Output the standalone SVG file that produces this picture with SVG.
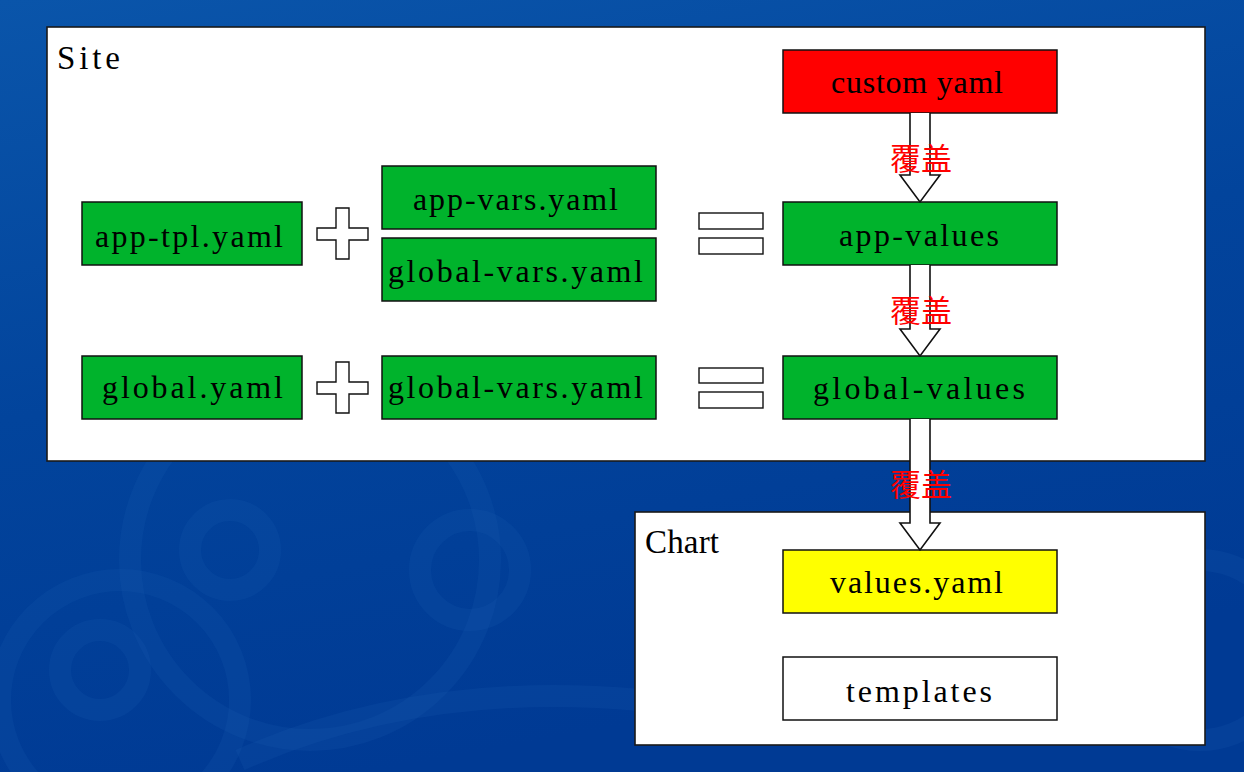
<svg xmlns="http://www.w3.org/2000/svg" width="1244" height="772" viewBox="0 0 1244 772">
<defs>
<linearGradient id="bg" x1="0" y1="0" x2="0.3" y2="1">
<stop offset="0" stop-color="#0a55aa"/>
<stop offset="0.5" stop-color="#02449c"/>
<stop offset="1" stop-color="#003a94"/>
</linearGradient>
<style>
.frame{fill:#fff;stroke:#1a1a1a;stroke-width:1.6}
.box{stroke:#111;stroke-width:1.5}
.g{fill:#00b32c}
.r{fill:#ff0000}
.y{fill:#ffff00}
.w{fill:#fff}
.t{font-family:"Liberation Serif","Times New Roman",serif;font-size:32px;fill:#000}
.big{font-size:33px}
.sym{fill:#fff;stroke:#111;stroke-width:1.4}
.arrow{fill:#fff;stroke:#111;stroke-width:1.6;stroke-linejoin:miter}
.lbl{font-family:"Noto Sans CJK SC","Noto Sans",sans-serif;font-size:31px;fill:#ff0000;text-anchor:middle}
.swirl{fill:none;stroke:#1a5cb0;stroke-opacity:0.18;stroke-width:22}
</style>
</defs>
<rect x="0" y="0" width="1244" height="772" fill="url(#bg)"/>
<g id="background-swirls">
<circle class="swirl" cx="120" cy="700" r="120"/>
<circle class="swirl" cx="100" cy="670" r="40"/>
<circle class="swirl" cx="310" cy="560" r="180"/>
<circle class="swirl" cx="230" cy="550" r="40"/>
<circle class="swirl" cx="470" cy="570" r="50"/>
<path class="swirl" d="M240 760 Q420 680 640 700"/>
<circle class="swirl" cx="1200" cy="650" r="90"/>
</g>

<g id="site">
<rect class="frame" x="47" y="27" width="1158" height="434"/>
<text class="t big" x="57" y="69" textLength="63" lengthAdjust="spacing">Site</text>
</g>
<g id="chart">
<rect class="frame" x="635" y="512" width="570" height="233"/>
<text class="t big" x="645" y="553" textLength="74" lengthAdjust="spacing">Chart</text>
</g>

<g id="custom-yaml">
<rect class="box r" x="783" y="50" width="274" height="63"/>
<text class="t" x="831" y="93" textLength="172" lengthAdjust="spacing">custom yaml</text>
</g>
<g id="app-values">
<rect class="box g" x="783" y="202" width="274" height="63"/>
<text class="t" x="839" y="246" textLength="160" lengthAdjust="spacing">app-values</text>
</g>
<g id="global-values">
<rect class="box g" x="783" y="356" width="274" height="63"/>
<text class="t" x="813" y="399" textLength="212" lengthAdjust="spacing">global-values</text>
</g>
<g id="values-yaml">
<rect class="box y" x="783" y="550" width="274" height="63"/>
<text class="t" x="830" y="593" textLength="173" lengthAdjust="spacing">values.yaml</text>
</g>
<g id="templates">
<rect class="box w" x="783" y="657" width="274" height="63"/>
<text class="t" x="846" y="702" textLength="146" lengthAdjust="spacing">templates</text>
</g>
<g id="app-tpl-yaml">
<rect class="box g" x="82" y="202" width="220" height="63"/>
<text class="t" x="95" y="247" textLength="188" lengthAdjust="spacing">app-tpl.yaml</text>
</g>
<g id="app-vars-yaml">
<rect class="box g" x="382" y="166" width="274" height="63"/>
<text class="t" x="413" y="210" textLength="205" lengthAdjust="spacing">app-vars.yaml</text>
</g>
<g id="global-vars-yaml-1">
<rect class="box g" x="382" y="238" width="274" height="63"/>
<text class="t" x="388" y="282" textLength="255" lengthAdjust="spacing">global-vars.yaml</text>
</g>
<g id="global-yaml">
<rect class="box g" x="82" y="356" width="220" height="63"/>
<text class="t" x="102" y="398" textLength="181" lengthAdjust="spacing">global.yaml</text>
</g>
<g id="global-vars-yaml-2">
<rect class="box g" x="382" y="356" width="274" height="63"/>
<text class="t" x="388" y="398" textLength="255" lengthAdjust="spacing">global-vars.yaml</text>
</g>

<g id="plus-1">
<path class="sym" d="M336 208 H349 V228 H368 V240 H349 V259 H336 V240 H317 V228 H336 Z"/>
</g>
<g id="plus-2">
<path class="sym" d="M336 362 H349 V382 H368 V394 H349 V413 H336 V394 H317 V382 H336 Z"/>
</g>
<g id="equals-1">
<rect class="sym" x="699" y="213" width="64" height="16"/>
<rect class="sym" x="699" y="238" width="64" height="16"/>
</g>
<g id="equals-2">
<rect class="sym" x="699" y="368" width="64" height="15"/>
<rect class="sym" x="699" y="392" width="64" height="16"/>
</g>

<g id="connectors">
<path class="arrow" d="M910 113 V175 H900 L920 202 L940 175 H930 V113"/>
<path class="arrow" d="M910 265 V329 H900 L920 356 L940 329 H930 V265"/>
<path class="arrow" d="M910 419 V523 H900 L920 550 L940 523 H930 V419"/>
<text class="lbl" x="921" y="170">覆盖</text>
<text class="lbl" x="921" y="322">覆盖</text>
<text class="lbl" x="921" y="496">覆盖</text>
</g>
</svg>
